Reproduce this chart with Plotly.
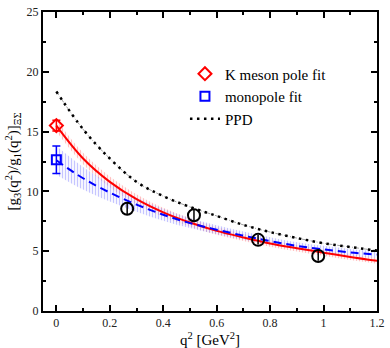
"""Axial form factor ratio g3/g1 versus momentum transfer."""

import plotly.graph_objects as go

# q^2 grid of the fit curves [GeV^2]
q2 = [0.0, 0.1, 0.2, 0.3, 0.4, 0.5, 0.6, 0.7, 0.8, 0.9, 1.0, 1.1, 1.2]

# K meson pole fit and its error band
kpole = [15.5, 12.75, 10.8, 9.35, 8.25, 7.4, 6.7, 6.15, 5.65, 5.25, 4.88, 4.52, 4.2]
kpole_err = [0.5, 0.48, 0.45, 0.42, 0.38, 0.35, 0.32, 0.3, 0.28, 0.27, 0.26, 0.25, 0.24]

# monopole fit and its error band
mono = [12.6, 11.1, 9.9, 8.9, 8.05, 7.35, 6.8, 6.3, 5.85, 5.45, 5.15, 4.9, 4.72]
mono_err = [1.2, 0.95, 0.75, 0.6, 0.5, 0.42, 0.38, 0.35, 0.32, 0.3, 0.3, 0.28, 0.28]

# PPD model
ppd = [18.35, 15.2, 12.75, 10.8, 9.6, 8.7, 7.95, 7.2, 6.6, 6.1, 5.67, 5.35, 5.05]

# extrapolated values at q^2 = 0
kpole_0, kpole_0_err = 15.5, 0.45
mono_0, mono_0_err = 12.65, 1.15

# lattice points
lat_q2 = [0.265, 0.515, 0.755, 0.98]
lat_val = [8.55, 8.0, 5.95, 4.6]
lat_err = [0.5, 0.5, 0.4, 0.4]

SERIF = "Liberation Serif, DejaVu Serif, serif"


def _band(fig, center, err, color):
    """Hatched error band around a fit curve."""
    upper = [c + e for c, e in zip(center, err)]
    lower = [c - e for c, e in zip(center, err)]
    fig.add_trace(go.Scatter(x=q2, y=upper, mode="lines", line={"width": 0, "shape": "spline"},
                             showlegend=False, hoverinfo="skip"))
    fig.add_trace(go.Scatter(
        x=q2, y=lower, mode="lines", line={"width": 0, "shape": "spline"},
        fill="tonexty", fillcolor="rgba(0,0,0,0)",
        fillpattern={"shape": "|", "fgcolor": color, "bgcolor": "rgba(255,255,255,0)",
                     "size": 3, "solidity": 0.45},
        showlegend=False, hoverinfo="skip",
    ))


fig = go.Figure()

_band(fig, kpole, kpole_err, "rgb(255,130,130)")
_band(fig, mono, mono_err, "rgb(140,140,255)")

fig.add_trace(go.Scatter(x=q2, y=kpole, mode="lines", line={"color": "#ff0000", "width": 2, "shape": "spline"},
                         showlegend=False))
fig.add_trace(go.Scatter(x=q2, y=mono, mode="lines",
                         line={"color": "#0000ff", "width": 2, "dash": "8px,5px", "shape": "spline"},
                         showlegend=False))

# PPD: thin grey guide under black dots
fig.add_trace(go.Scatter(x=q2, y=ppd, mode="lines",
                         line={"color": "#a0a0a0", "width": 1, "dash": "4px,2px,1px,2px", "shape": "spline"},
                         showlegend=False))

fig.add_trace(go.Scatter(
    x=lat_q2, y=lat_val, mode="markers",
    marker={"symbol": "circle-open", "size": 12, "color": "black", "line": {"width": 2}},
    error_y={"type": "data", "array": lat_err, "color": "black", "thickness": 1.5, "width": 0},
    showlegend=False,
))

fig.add_trace(go.Scatter(
    x=[0], y=[kpole_0], mode="markers", name="K meson pole fit",
    marker={"symbol": "diamond-open", "size": 10, "color": "#ff0000", "line": {"width": 2}},
    error_y={"type": "data", "array": [kpole_0_err], "color": "#ff0000", "thickness": 1.5, "width": 4},
))
fig.add_trace(go.Scatter(
    x=[0], y=[mono_0], mode="markers", name="monopole fit",
    marker={"symbol": "square-open", "size": 9, "color": "#0000ff", "line": {"width": 2}},
    error_y={"type": "data", "array": [mono_0_err], "color": "#0000ff", "thickness": 1.5, "width": 4},
))
fig.add_trace(go.Scatter(x=q2, y=ppd, mode="lines", name="PPD",
                         line={"color": "black", "width": 2.5, "dash": "2.5px,4.5px", "shape": "spline"}))

axis_common = dict(
    showline=True, linecolor="black", linewidth=2, mirror="allticks",
    ticks="inside", ticklen=6, tickwidth=2, tickcolor="black",
    showgrid=False, zeroline=False,
    tickfont={"family": SERIF, "size": 12, "color": "#222"},
    title_font={"family": SERIF, "size": 15, "color": "black"},
)

fig.update_xaxes(
    range=[-0.05, 1.2], tickvals=[0, 0.2, 0.4, 0.6, 0.8, 1.0, 1.2],
    ticktext=["0", "0.2", "0.4", "0.6", "0.8", "1", "1.2"],
    minor={"dtick": 0.1, "tick0": 0, "ticks": "inside", "ticklen": 3, "tickwidth": 2, "tickcolor": "black"},
    title_text="q<sup>2</sup> [GeV<sup>2</sup>]", title_standoff=2,
    **axis_common,
)
fig.update_yaxes(
    range=[0, 25], dtick=5, tick0=0,
    minor={"dtick": 2.5, "tick0": 0, "ticks": "inside", "ticklen": 3, "tickwidth": 2, "tickcolor": "black"},
    title_text="[g<sub>3</sub>(q<sup>2</sup>)/g<sub>1</sub>(q<sup>2</sup>)]<sub>ΞΣ</sub>", title_standoff=4,
    **axis_common,
)

fig.update_layout(
    width=390, height=348,
    margin={"l": 43, "r": 9, "t": 5, "b": 36},
    plot_bgcolor="white", paper_bgcolor="white",
    font={"family": SERIF, "color": "black"},
    legend={"x": 0.425, "y": 0.848, "xanchor": "left", "yanchor": "top", "traceorder": "normal",
            "font": {"family": SERIF, "size": 15}, "bgcolor": "rgba(0,0,0,0)",
            "tracegroupgap": 0, "itemwidth": 30},
    showlegend=True,
)

# the page's default body margin would push the figure off the window
fig.write_html("out.html", config={"displayModeBar": False},
               post_script="document.body.style.margin = '0';")
